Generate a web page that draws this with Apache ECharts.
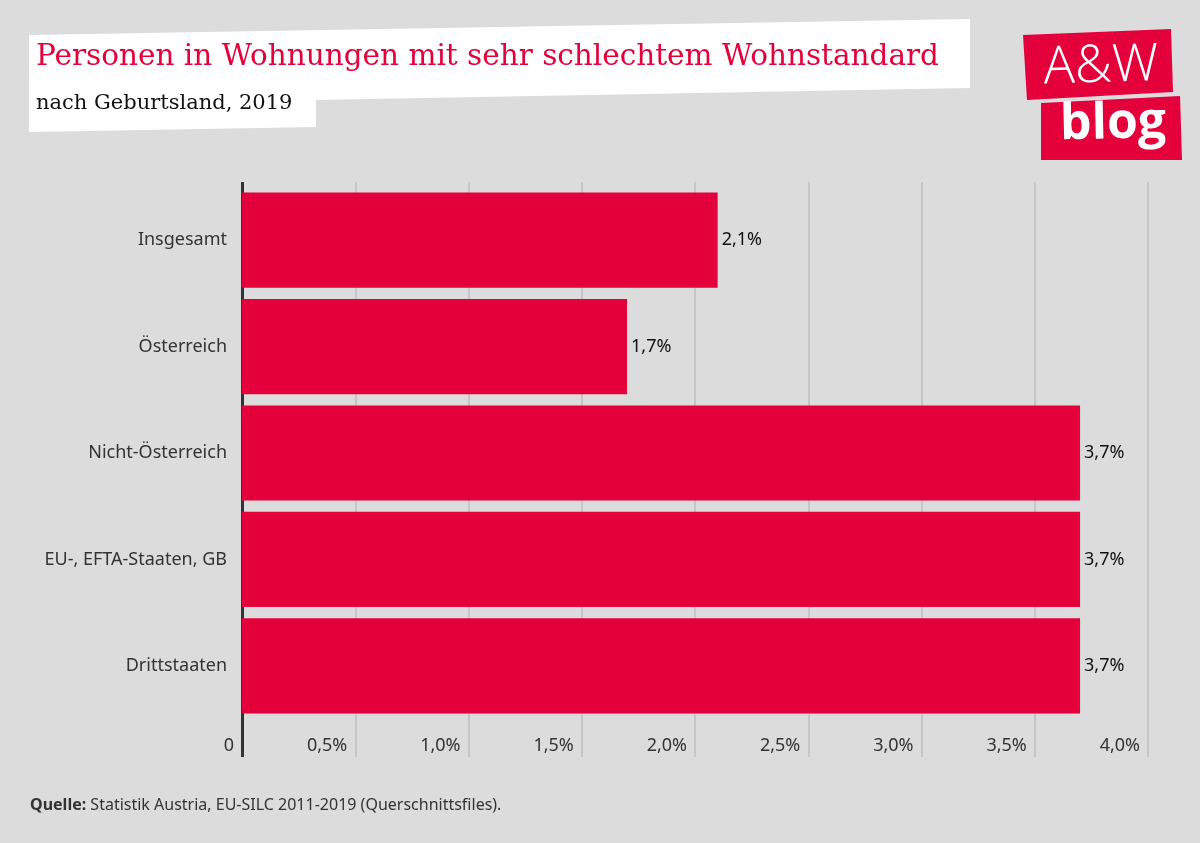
<!DOCTYPE html>
<html>
<head>
<meta charset="utf-8">
<script src="https://cdn.jsdelivr.net/npm/echarts@6/dist/echarts.min.js"></script>
<style>
html,body{margin:0;padding:0;background:#dcdcdc;}
#chart{width:1200px;height:843px;}
</style>
</head>
<body>
<div id="chart"></div>
<script>
const categories = ['Insgesamt', 'Österreich', 'Nicht-Österreich', 'EU-, EFTA-Staaten, GB', 'Drittstaaten'];
const values = [2.1, 1.7, 3.7, 3.7, 3.7];
const xTicks = [0, 0.5, 1.0, 1.5, 2.0, 2.5, 3.0, 3.5, 4.0];
const titleText = 'Personen in Wohnungen mit sehr schlechtem Wohnstandard';
const subtitleText = 'nach Geburtsland, 2019';
const sourceText = 'Statistik Austria, EU-SILC 2011-2019 (Querschnittsfiles).';

const RED = '#e4003a';
const TXT = '#333333';
const GRID = '#c6c6c6';
const FONT = '"Noto Sans", sans-serif';

function fmtPct(v) {
  if (v === 0) return '0';
  return v.toFixed(1).replace('.', ',') + '%';
}

const chart = echarts.init(document.getElementById('chart'), null, {renderer: 'canvas'});
const baseX = {
  type: 'value', min: xTicks[0], max: xTicks[xTicks.length - 1], interval: 0.5,
  gridIndex: 0
};
chart.setOption({
  backgroundColor: '#dcdcdc',
  animation: false,
  grid: {left: 242, right: 52, top: 187, bottom: 124, containLabel: false},
  xAxis: [
    Object.assign({}, baseX, {
      position: 'bottom',
      axisLine: {show: false},
      axisTick: {show: true, length: 38, lineStyle: {color: GRID, width: 2}},
      splitLine: {show: true, lineStyle: {color: GRID, width: 2}},
      axisLabel: {
        show: true, formatter: fmtPct, align: 'right', margin: 18,
        padding: [0, 8, 0, 0],
        color: TXT, fontSize: 18, fontFamily: FONT
      }
    }),
    Object.assign({}, baseX, {
      position: 'top',
      axisLine: {show: false},
      axisTick: {show: true, length: 5, lineStyle: {color: GRID, width: 2}},
      splitLine: {show: false},
      axisLabel: {show: false}
    }),
    Object.assign({}, baseX, {
      position: 'bottom',
      axisLine: {show: false},
      axisTick: {show: true, length: 38, customValues: [0], lineStyle: {color: TXT, width: 3}},
      splitLine: {show: false},
      axisLabel: {show: false}
    }),
    Object.assign({}, baseX, {
      position: 'top',
      axisLine: {show: false},
      axisTick: {show: true, length: 5, customValues: [0], lineStyle: {color: TXT, width: 3}},
      splitLine: {show: false},
      axisLabel: {show: false}
    })
  ],
  yAxis: {
    type: 'category', data: categories, inverse: true,
    axisLine: {show: true, lineStyle: {color: TXT, width: 3}},
    axisTick: {show: false},
    axisLabel: {margin: 15, color: TXT, fontSize: 18, fontFamily: FONT}
  },
  series: [{
    type: 'bar', data: values, xAxisIndex: 0,
    barCategoryGap: '10.5%',
    itemStyle: {color: RED},
    label: {
      show: true, position: 'right', distance: 4,
      formatter: p => fmtPct(p.value),
      color: '#111', fontSize: 18, fontFamily: FONT
    },
    z: 3
  }],
  graphic: [
    {type: 'polygon', shape: {points: [[29,35],[970,19],[970,88],[316,100],[316,127],[29,132]]},
     style: {fill: '#ffffff'}, z: 1},
    {type: 'text', x: 36, y: 57, style: {text: titleText, fill: RED,
      font: '29.5px "DejaVu Serif", serif', verticalAlign: 'middle'}, z: 2},
    {type: 'text', x: 36, y: 104, style: {text: subtitleText, fill: '#111',
      font: '21px "DejaVu Serif", serif', verticalAlign: 'middle'}, z: 2},
    {type: 'polygon', shape: {points: [[1023,35],[1171,29],[1173,92],[1027,100]]},
     style: {fill: RED}, z: 1},
    {type: 'polygon', shape: {points: [[1041,103],[1180,96],[1182,160],[1041,160]]},
     style: {fill: RED}, z: 1},
    {type: 'text', x: 1101, y: 67, rotation: 0.03, style: {text: 'A&W', fill: '#ffffff',
      font: '300 52px "Open Sans", sans-serif', align: 'center', verticalAlign: 'middle'}, z: 2},
    {type: 'text', x: 1113, y: 124, rotation: 0.02, style: {text: 'blog', fill: '#ffffff',
      font: 'bold 50px "Open Sans", sans-serif', align: 'center', verticalAlign: 'middle'}, z: 2},
    {type: 'text', x: 30, y: 805, style: {
      text: '{b|Quelle:} ' + sourceText,
      verticalAlign: 'middle',
      rich: {b: {fontWeight: 'bold', fontSize: 16, fontFamily: FONT, fill: TXT}},
      fill: TXT, font: '16px "Noto Sans", sans-serif'}, z: 2}
  ]
});
</script>
</body>
</html>
